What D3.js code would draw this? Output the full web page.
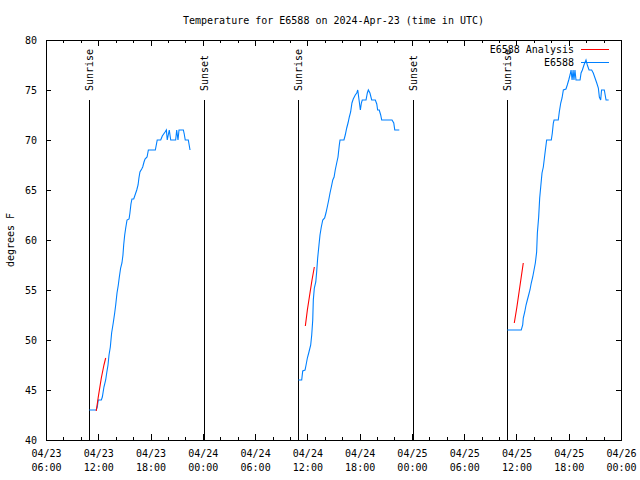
<!DOCTYPE html>
<html><head><meta charset="utf-8">
<script src="https://cdn.jsdelivr.net/npm/d3@7"></script>
<style>
html,body{margin:0;padding:0;background:#fff;}
text{font-family:"DejaVu Sans Mono",monospace;font-size:10px;fill:#000;}
</style></head>
<body>
<svg id="chart" width="640" height="480"></svg>
<script>
// ---------- DATA ----------
const titleText = "Temperature for E6588 on 2024-Apr-23 (time in UTC)";
const yLabel = "degrees F";
const xDomain = ["2024-04-23 06:00", "2024-04-26 00:00"];
const yDomain = [40, 80];
const yTicks = [40, 45, 50, 55, 60, 65, 70, 75, 80];

// observed temperatures (E6588), one array per day
const obsDay1 = [
 ["2024-04-23 10:58",43],["2024-04-23 11:46",43],["2024-04-23 11:53",43.3],["2024-04-23 12:00",44],
 ["2024-04-23 12:21",44],["2024-04-23 12:28",44.3],["2024-04-23 12:39",45.3],["2024-04-23 12:51",46],
 ["2024-04-23 12:58",46.7],["2024-04-23 13:07",47.5],["2024-04-23 13:14",48.5],["2024-04-23 13:23",49.3],
 ["2024-04-23 13:32",50.7],["2024-04-23 13:43",51.7],["2024-04-23 13:53",52.7],["2024-04-23 14:00",53.5],
 ["2024-04-23 14:09",54.7],["2024-04-23 14:18",55.5],["2024-04-23 14:25",56.3],["2024-04-23 14:34",57.2],
 ["2024-04-23 14:43",57.7],["2024-04-23 14:50",58.5],["2024-04-23 14:55",59.5],["2024-04-23 15:02",60.5],
 ["2024-04-23 15:09",61.2],["2024-04-23 15:18",62],["2024-04-23 15:32",62.1],["2024-04-23 15:38",62.7],
 ["2024-04-23 15:45",63.6],["2024-04-23 15:52",64.1],["2024-04-23 16:04",64.1],["2024-04-23 16:11",64.4],
 ["2024-04-23 16:25",65],["2024-04-23 16:34",65.5],["2024-04-23 16:40",66.2],["2024-04-23 16:47",66.8],
 ["2024-04-23 16:59",67.1],["2024-04-23 17:06",67.3],["2024-04-23 17:15",67.8],["2024-04-23 17:22",68.1],
 ["2024-04-23 17:36",68.3],["2024-04-23 17:45",69],["2024-04-23 18:33",69],["2024-04-23 18:46",70],
 ["2024-04-23 19:10",70],["2024-04-23 19:21",70.4],["2024-04-23 19:40",70.8],["2024-04-23 19:49",71],
 ["2024-04-23 19:55",70],["2024-04-23 20:09",71],["2024-04-23 20:19",70],["2024-04-23 20:53",70],
 ["2024-04-23 21:00",71],["2024-04-23 21:09",70],["2024-04-23 21:16",71],["2024-04-23 21:46",71],
 ["2024-04-23 21:52",70.6],["2024-04-23 21:59",70],["2024-04-23 22:20",70],["2024-04-23 22:32",69]
];
const obsDay2 = [
 ["2024-04-24 10:58",46],["2024-04-24 11:21",46],["2024-04-24 11:28",46.9],["2024-04-24 11:44",47],
 ["2024-04-24 11:51",47.5],["2024-04-24 12:00",48.2],["2024-04-24 12:11",48.8],["2024-04-24 12:23",49.5],
 ["2024-04-24 12:30",50.5],["2024-04-24 12:37",52],["2024-04-24 12:41",54],["2024-04-24 12:48",55.2],
 ["2024-04-24 12:58",55.8],["2024-04-24 13:04",56.8],["2024-04-24 13:11",58.2],["2024-04-24 13:20",59.5],
 ["2024-04-24 13:27",60.5],["2024-04-24 13:36",61.3],["2024-04-24 13:46",62],["2024-04-24 13:59",62.2],
 ["2024-04-24 14:08",62.7],["2024-04-24 14:17",63.3],["2024-04-24 14:27",64],["2024-04-24 14:36",64.7],
 ["2024-04-24 14:45",65.3],["2024-04-24 14:55",66],["2024-04-24 15:04",66.3],["2024-04-24 15:12",67],
 ["2024-04-24 15:22",67.7],["2024-04-24 15:31",68.3],["2024-04-24 15:40",69.5],["2024-04-24 15:45",70],
 ["2024-04-24 16:12",70],["2024-04-24 16:21",70.5],["2024-04-24 16:31",71.2],["2024-04-24 16:40",71.7],
 ["2024-04-24 16:49",72.3],["2024-04-24 16:58",72.8],["2024-04-24 17:07",73.7],["2024-04-24 17:16",74.1],
 ["2024-04-24 17:30",74.5],["2024-04-24 17:40",74.7],["2024-04-24 17:47",75],["2024-04-24 17:56",74],
 ["2024-04-24 18:05",73],["2024-04-24 18:12",73.7],["2024-04-24 18:18",74],["2024-04-24 18:44",74],
 ["2024-04-24 18:53",74.7],["2024-04-24 19:00",75],["2024-04-24 19:11",74.7],["2024-04-24 19:23",74],
 ["2024-04-24 19:48",74],["2024-04-24 19:58",73.6],["2024-04-24 20:04",73],["2024-04-24 20:15",73],
 ["2024-04-24 20:25",72.5],["2024-04-24 20:32",72],["2024-04-24 21:43",72],["2024-04-24 21:55",71.7],
 ["2024-04-24 22:02",71],["2024-04-24 22:33",71]
];
const obsDay3 = [
 ["2024-04-25 10:57",51],["2024-04-25 12:33",51],["2024-04-25 12:43",51.5],["2024-04-25 12:47",52.2],
 ["2024-04-25 12:57",52.8],["2024-04-25 13:06",53.5],["2024-04-25 13:15",54],["2024-04-25 13:24",54.5],
 ["2024-04-25 13:33",55],["2024-04-25 13:42",55.7],["2024-04-25 13:52",56.3],["2024-04-25 14:01",57],
 ["2024-04-25 14:10",57.7],["2024-04-25 14:19",58.8],["2024-04-25 14:24",60.7],["2024-04-25 14:33",62.3],
 ["2024-04-25 14:40",64.2],["2024-04-25 14:47",65.3],["2024-04-25 14:56",66.7],["2024-04-25 15:05",67.3],
 ["2024-04-25 15:15",68.5],["2024-04-25 15:21",69.2],["2024-04-25 15:28",70],["2024-04-25 16:00",70],
 ["2024-04-25 16:07",70.7],["2024-04-25 16:14",71.7],["2024-04-25 16:19",72],["2024-04-25 16:48",72],
 ["2024-04-25 16:55",72.8],["2024-04-25 17:05",73.7],["2024-04-25 17:14",74.2],["2024-04-25 17:23",75],
 ["2024-04-25 17:41",75.1],["2024-04-25 17:50",75.5],["2024-04-25 18:00",76],["2024-04-25 18:09",76.5],
 ["2024-04-25 18:16",77],["2024-04-25 18:23",76],["2024-04-25 18:30",77],["2024-04-25 18:36",76],
 ["2024-04-25 18:43",77],["2024-04-25 18:50",76],["2024-04-25 19:18",76],["2024-04-25 19:25",76.7],
 ["2024-04-25 19:34",77],["2024-04-25 19:45",77.5],["2024-04-25 19:59",78],["2024-04-25 20:08",77.5],
 ["2024-04-25 20:20",77],["2024-04-25 20:38",77],["2024-04-25 20:49",76.7],["2024-04-25 21:01",76.2],
 ["2024-04-25 21:13",75.7],["2024-04-25 21:24",75.2],["2024-04-25 21:31",74.3],["2024-04-25 21:40",74],
 ["2024-04-25 21:46",75],["2024-04-25 22:05",75],["2024-04-25 22:17",74],["2024-04-25 22:35",74]
];
// analysis temperatures (E6588 Analysis)
const anaDay1 = [["2024-04-23 11:46",42.9],["2024-04-23 12:00",44.3],["2024-04-23 12:21",46.2],["2024-04-23 12:39",47.5],["2024-04-23 12:51",48.2]];
const anaDay2 = [["2024-04-24 11:46",51.4],["2024-04-24 12:00",53],["2024-04-24 12:18",54.7],["2024-04-24 12:32",56],["2024-04-24 12:48",57.3]];
const anaDay3 = [["2024-04-25 11:45",51.7],["2024-04-25 12:02",53.2],["2024-04-25 12:18",54.8],["2024-04-25 12:32",56.2],["2024-04-25 12:47",57.7]];

const sunEvents = [
 ["2024-04-23 10:58","Sunrise"],["2024-04-24 00:08","Sunset"],
 ["2024-04-24 10:57","Sunrise"],["2024-04-25 00:08","Sunset"],
 ["2024-04-25 10:56","Sunrise"]
];
const seriesNames = ["E6588 Analysis", "E6588"];
const seriesColors = ["#ff0000", "#0080ff"];

// ---------- CHART ----------
const parse = d3.utcParse("%Y-%m-%d %H:%M");
const M = {left:46, right:621, top:40, bottom:440};
const svg = d3.select("#chart");

const x = d3.scaleUtc().domain(xDomain.map(parse)).range([M.left, M.right]);
const y = d3.scaleLinear().domain(yDomain).range([M.bottom, M.top]);

const allTicks = d3.utcHour.every(2).range(x.domain()[0], d3.utcHour.offset(x.domain()[1], 1));
const majorTicks = allTicks.filter(d => d.getUTCHours() % 6 === 0);
const minorTicks = allTicks.filter(d => d.getUTCHours() % 6 !== 0);
const fmtD = d3.utcFormat("%m/%d"), fmtT = d3.utcFormat("%H:%M");

function clean(g){ g.select(".domain").remove(); g.selectAll("line").attr("stroke","#000").attr("shape-rendering","crispEdges"); }

// bottom major with labels
svg.append("g").attr("transform",`translate(0,${M.bottom})`)
  .call(d3.axisBottom(x).tickValues(majorTicks).tickSize(-6).tickPadding(10).tickFormat(""))
  .call(clean)
  .call(g => g.selectAll(".tick text").remove())
  .call(g => g.selectAll(".tick").each(function(d){
     const t = d3.select(this).append("text").attr("text-anchor","middle").attr("y",17);
     t.append("tspan").attr("x",0).text(fmtD(d));
     t.append("tspan").attr("x",0).attr("dy",14).text(fmtT(d));
  }));
svg.append("g").attr("transform",`translate(0,${M.bottom})`)
  .call(d3.axisBottom(x).tickValues(minorTicks).tickSize(-3).tickFormat("")).call(clean);
// top mirror
svg.append("g").attr("transform",`translate(0,${M.top})`)
  .call(d3.axisTop(x).tickValues(majorTicks).tickSize(-6).tickFormat("")).call(clean);
svg.append("g").attr("transform",`translate(0,${M.top})`)
  .call(d3.axisTop(x).tickValues(minorTicks).tickSize(-3).tickFormat("")).call(clean);
// left y
svg.append("g").attr("transform",`translate(${M.left},0)`)
  .call(d3.axisLeft(y).tickValues(yTicks).tickSize(-5).tickPadding(9).tickFormat(d3.format("d")))
  .call(clean)
  .call(g => g.selectAll(".tick text").attr("fill","#000"));
// right mirror
svg.append("g").attr("transform",`translate(${M.right},0)`)
  .call(d3.axisRight(y).tickValues(yTicks).tickSize(-5).tickFormat("")).call(clean);

svg.selectAll("g").attr("font-family",null).attr("font-size",null);

// frame
svg.append("rect").attr("x",M.left).attr("y",M.top).attr("width",M.right-M.left).attr("height",M.bottom-M.top)
  .attr("fill","none").attr("stroke","#000").attr("shape-rendering","crispEdges");

// title & y label
svg.append("text").attr("x",(M.left+M.right)/2).attr("y",24).attr("text-anchor","middle").text(titleText);
svg.append("text").attr("transform",`translate(14,240) rotate(-90)`).attr("text-anchor","middle").text(yLabel);

// sun lines
const lineTopY = M.bottom - 0.85*(M.bottom-M.top);
sunEvents.forEach(([t,label]) => {
  const xp = Math.round(x(parse(t)));
  svg.append("line").attr("x1",xp).attr("x2",xp).attr("y1",lineTopY).attr("y2",M.bottom)
    .attr("stroke","#000").attr("shape-rendering","crispEdges");
  svg.append("text").attr("transform",`translate(${xp+4},${lineTopY-9}) rotate(-90)`)
    .attr("text-anchor","start").text(label);
});

// data lines
const line = d3.line().x(d => x(parse(d[0]))).y(d => y(d[1]));
[obsDay1, obsDay2, obsDay3].forEach(s =>
  svg.append("path").datum(s).attr("d",line).attr("fill","none").attr("stroke",seriesColors[1])
    .attr("stroke-width",1.1));
[anaDay1, anaDay2, anaDay3].forEach(s =>
  svg.append("path").datum(s).attr("d",line).attr("fill","none").attr("stroke",seriesColors[0])
    .attr("stroke-width",1.1));

// legend
seriesNames.forEach((n,i) => {
  const cy = 49 + i*13;
  svg.append("text").attr("x",574).attr("y",cy+3.5).attr("text-anchor","end").text(n);
  svg.append("line").attr("x1",581).attr("x2",609).attr("y1",cy).attr("y2",cy)
    .attr("stroke",seriesColors[i]).attr("shape-rendering","crispEdges");
});
</script>
</body></html>
